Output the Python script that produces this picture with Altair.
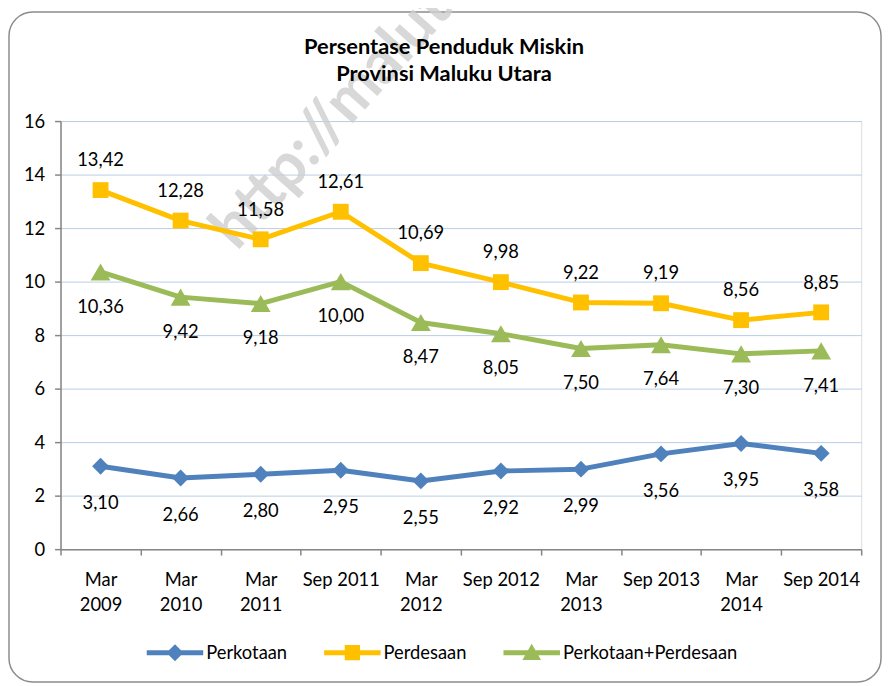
import altair as alt
import pandas as pd

periods = ["Mar|2009", "Mar|2010", "Mar|2011", "Sep 2011", "Mar|2012",
           "Sep 2012", "Mar|2013", "Sep 2013", "Mar|2014", "Sep 2014"]
series_names = ["Perkotaan", "Perdesaan", "Perkotaan+Perdesaan"]
perkotaan = [3.10, 2.66, 2.80, 2.95, 2.55, 2.92, 2.99, 3.56, 3.95, 3.58]
perdesaan = [13.42, 12.28, 11.58, 12.61, 10.69, 9.98, 9.22, 9.19, 8.56, 8.85]
gabungan = [10.36, 9.42, 9.18, 10.00, 8.47, 8.05, 7.50, 7.64, 7.30, 7.41]
y_ticks = [0, 2, 4, 6, 8, 10, 12, 14, 16]
colors = ["#4F81BD", "#FFC000", "#9BBB59"]
marker_shapes = ["diamond", "square", "triangle-up"]
marker_sizes = [289, 256, 400]
label_dy = [37, -30, 35]
title_lines = ["Persentase Penduduk Miskin", "Provinsi Maluku Utara"]
watermark = "http://malut.bps.go.id"

FONT = "Lato"
FS = 18.5

rows = []
for name, vals in zip(series_names, [perkotaan, perdesaan, gabungan]):
    for p, v in zip(periods, vals):
        rows.append({"period": p, "series": name, "value": v})
df = pd.DataFrame(rows)

x_enc = alt.X(
    "period:N", sort=periods, bandPosition=0.5,
    scale=alt.Scale(type="band", paddingInner=0, paddingOuter=0),
    axis=alt.Axis(title=None, labelAngle=0,
                  labelExpr="isValid(datum.value) ? split(datum.value, '|') : ''",
                  labelBaseline="top", labelLineHeight=25, labelPadding=16,
                  tickSize=6, tickBand="extent", domainColor="#868686",
                  tickColor="#868686", domainWidth=1.5, tickWidth=1.5,
                  labelFont=FONT, labelFontSize=FS, labelColor="black", grid=False),
)
y_enc = alt.Y(
    "value:Q", scale=alt.Scale(domain=[0, 16], nice=False),
    axis=alt.Axis(title=None, values=y_ticks, tickSize=6, labelPadding=10,
                  domainColor="#868686", tickColor="#868686", domainWidth=1.5,
                  tickWidth=1.5, gridColor="#B9CDE5", gridWidth=1,
                  labelFont=FONT, labelFontSize=FS, labelColor="black"),
)

base = alt.Chart(df)

border = alt.Chart(pd.DataFrame({"a": [0]})).mark_rect(
    fill="transparent", stroke="#8C8C8C", strokeWidth=1.5, cornerRadius=24
).encode(x=alt.value(-52), x2=alt.value(828), y=alt.value(-110), y2=alt.value(566))

wm = alt.Chart(pd.DataFrame({"t": [watermark]})).mark_text(
    font=FONT, fontSize=62, fontWeight="bold", color="#CFCFCF", opacity=0.8,
    align="left", baseline="alphabetic", angle=312
).encode(text="t:N", x=alt.value(178), y=alt.value(132))

title1 = alt.Chart(pd.DataFrame({"t": [title_lines[0]]})).mark_text(
    font=FONT, fontSize=22, fontWeight="bold", color="black",
    align="center", baseline="middle"
).encode(text="t:N", x=alt.value(387), y=alt.value(-75))
title2 = alt.Chart(pd.DataFrame({"t": [title_lines[1]]})).mark_text(
    font=FONT, fontSize=22, fontWeight="bold", color="black",
    align="center", baseline="middle"
).encode(text="t:N", x=alt.value(387), y=alt.value(-47))

lines = base.mark_line(strokeWidth=5, strokeJoin="round").encode(
    x=x_enc, y=y_enc,
    color=alt.Color("series:N", scale=alt.Scale(domain=series_names, range=colors),
                    legend=None),
    detail="series:N",
)

layers = [border, wm, title1, title2, lines]
for name, col, shp, sz, dy in zip(series_names, colors, marker_shapes, marker_sizes, label_dy):
    sub = base.transform_filter(alt.datum.series == name)
    layers.append(sub.mark_point(shape=shp, size=sz, filled=True, opacity=1,
                                 color=col).encode(x=x_enc, y=y_enc))
    layers.append(sub.transform_calculate(
        lab="replace(format(datum.value, '.2f'), '.', ',')"
    ).mark_text(font=FONT, fontSize=FS, color="black", dy=dy, baseline="middle").encode(
        x=x_enc, y=y_enc, text="lab:N"))

legend_paths = [
    "M-1,-0.088H1V0.088H-1Z M0,-0.3L0.3,0L0,0.3L-0.3,0Z",
    "M-1,-0.088H1V0.088H-1Z M-0.27,-0.27H0.27V0.27H-0.27Z",
    "M-1,-0.088H1V0.088H-1Z M0,-0.32L0.33,0.26H-0.33Z",
]
legend_cfg = dict(
    title=None, orient="none", legendX=87, legendY=508, direction="horizontal",
    columns=3, columnPadding=37, labelOffset=3, symbolSize=3249, labelLimit=400,
    symbolOpacity=1, symbolStrokeWidth=0, labelFont=FONT, labelFontSize=FS,
    labelColor="black", padding=0)
legend_layer = base.transform_filter(alt.datum.period == periods[0]).mark_point(
    filled=True, opacity=0
).encode(
    x=x_enc, y=y_enc,
    color=alt.Color("series:N", scale=alt.Scale(domain=series_names, range=colors),
                    legend=alt.Legend(**legend_cfg)),
    shape=alt.Shape("series:N", scale=alt.Scale(domain=series_names, range=legend_paths),
                    legend=alt.Legend(**legend_cfg)),
)
layers.append(legend_layer)

chart = alt.layer(*layers).resolve_scale(color="independent", shape="independent").properties(
    width=808, height=432,
    autosize="none",
    padding={"left": 53, "top": 111, "right": 23, "bottom": 135},
).configure_view(stroke=None).configure(background="white")

chart.save("out.html", embed_options={"renderer": "svg", "actions": False})
